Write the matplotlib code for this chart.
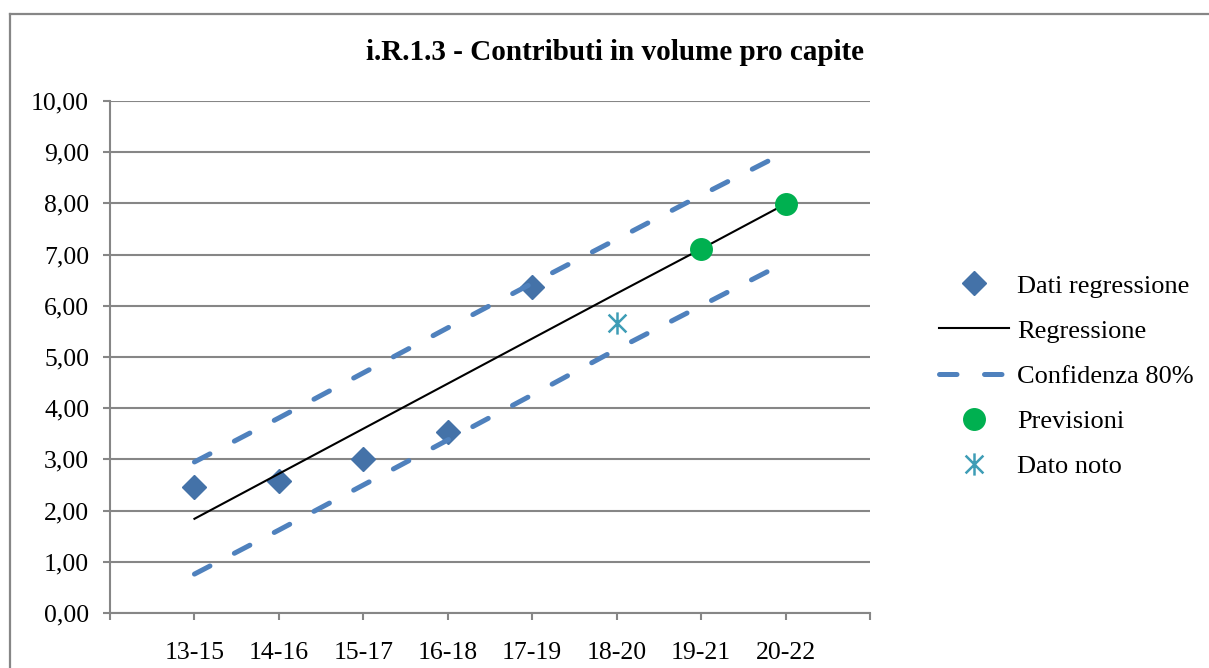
import matplotlib
matplotlib.use('Agg')
import matplotlib.pyplot as plt
from matplotlib.path import Path
from matplotlib.lines import Line2D

# Dati
periodi = ['13-15', '14-16', '15-17', '16-18', '17-19', '18-20', '19-21', '20-22']
dati_regressione = [2.46, 2.58, 3.01, 3.54, 6.37]          # 13-15 ... 17-19
regressione = [1.84, 2.72, 3.60, 4.48, 5.36, 6.24, 7.11, 7.99]
conf_sup = [2.95, 3.81, 4.69, 5.57, 6.44, 7.30, 8.16, 9.00]
conf_inf = [0.76, 1.62, 2.50, 3.38, 4.26, 5.15, 6.00, 6.85]
periodi_previsioni = ['19-21', '20-22']
previsioni = [7.11, 7.99]
periodi_dato_noto = ['18-20']
dato_noto = [5.66]

plt.rcParams['font.family'] = ['Liberation Serif', 'DejaVu Serif']

BLU = '#4F81BD'
BLU_SCURO = '#4472A8'
VERDE = '#00B050'
TEAL = '#3E9DB6'
GRIGIO = '#868686'

x = list(range(len(periodi)))
x_dati = x[:len(dati_regressione)]
x_prev = [periodi.index(p) for p in periodi_previsioni]
x_noto = [periodi.index(p) for p in periodi_dato_noto]

# marker "asterisco" stile Excel
stella = Path([(0, -1), (0, 1), (-0.8, -0.8), (0.8, 0.8), (-0.8, 0.8), (0.8, -0.8)],
              [Path.MOVETO, Path.LINETO, Path.MOVETO, Path.LINETO, Path.MOVETO, Path.LINETO])

fig = plt.figure(figsize=(12.09, 6.68), dpi=100)
ax = fig.add_axes([110 / 1209, 1 - 613 / 668, 760 / 1209, 512 / 668])

# cornice del grafico
fig.add_artist(Line2D([10 / 1209, 10 / 1209], [0, 1 - 14 / 668], transform=fig.transFigure,
                      color=GRIGIO, lw=1.6))
fig.add_artist(Line2D([10 / 1209, 1], [1 - 14 / 668, 1 - 14 / 668], transform=fig.transFigure,
                      color=GRIGIO, lw=1.6))

ax.plot(x_dati, dati_regressione, linestyle='none', marker='D', markersize=12.5,
        color=BLU_SCURO, label='Dati regressione', zorder=3)
ax.plot(x, regressione, color='black', lw=1.5, label='Regressione', zorder=4)
ax.plot(x, conf_sup, color=BLU, lw=3.6, dashes=(3.5, 5.5), dash_capstyle='round',
        label='Confidenza 80%', zorder=4)
ax.plot(x, conf_inf, color=BLU, lw=3.6, dashes=(3.5, 5.5), dash_capstyle='round', zorder=4)
ax.plot(x_prev, previsioni, linestyle='none', marker='o', markersize=15.5,
        color=VERDE, label='Previsioni', zorder=5)
ax.plot(x_noto, dato_noto, linestyle='none', marker=stella, markersize=16,
        markeredgewidth=1.8, color=TEAL, label='Dato noto', zorder=5)

ax.set_xlim(-1, len(periodi))
ax.set_ylim(0, 10)
ax.set_xticks(range(-1, len(periodi) + 1))
ax.set_xticklabels([''] + periodi + [''])
yt = list(range(0, 11))
ax.set_yticks(yt)
ax.set_yticklabels([f'{v:.2f}'.replace('.', ',') for v in yt])

ax.grid(axis='y', color=GRIGIO, lw=1.5)
ax.set_axisbelow(True)
for s in ['top', 'right']:
    ax.spines[s].set_visible(False)
for s in ['left', 'bottom']:
    ax.spines[s].set_color(GRIGIO)
    ax.spines[s].set_linewidth(1.5)
ax.tick_params(axis='both', colors=GRIGIO, length=5, width=1.5, labelcolor='black',
               labelsize=18.5)
ax.tick_params(axis='y', pad=10)
ax.tick_params(axis='x', pad=16)

fig.text(615 / 1209, 1 - 52 / 668, 'i.R.1.3 - Contributi in volume pro capite',
         ha='center', va='center', fontsize=21, fontweight='bold')

leg = fig.legend(loc='center left', bbox_to_anchor=(939 / 1209, 1 - 376 / 668),
                 frameon=False, fontsize=19, handlelength=2.65, handletextpad=0.3,
                 labelspacing=0.82, borderpad=0, borderaxespad=0)

fig.savefig('out.png', dpi=100)
